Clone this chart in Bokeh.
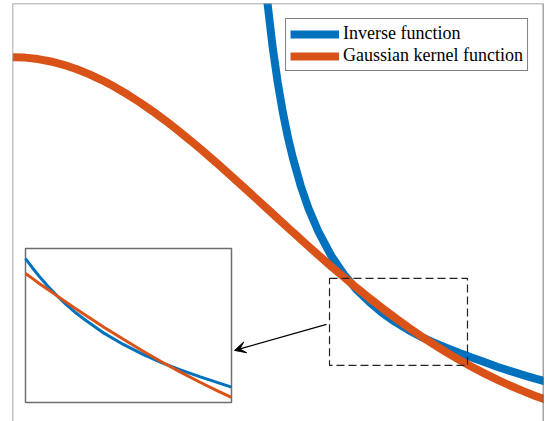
from bokeh.plotting import figure
from bokeh.models import Range1d, Span, BoxAnnotation, Arrow, VeeHead
from bokeh.embed import file_html
from bokeh.resources import INLINE

# ---- data ----
gauss_x = [0.0, 0.05, 0.1, 0.15, 0.2, 0.25, 0.3, 0.35, 0.4, 0.45, 0.5, 0.55, 0.6, 0.65,
           0.7, 0.75, 0.8, 0.85, 0.9, 0.95, 1.0, 1.05, 1.1, 1.15, 1.2, 1.25, 1.3, 1.35,
           1.4, 1.45, 1.5, 1.55, 1.6, 1.65, 1.7, 1.75, 1.8, 1.85, 1.9, 1.95, 2.0, 2.05, 2.1]
gauss_y = [1.0, 0.9988, 0.9950, 0.9888, 0.9802, 0.9692, 0.9560, 0.9406, 0.9231, 0.9037,
           0.8825, 0.8596, 0.8353, 0.8095, 0.7827, 0.7548, 0.7261, 0.6968, 0.6670, 0.6368,
           0.6065, 0.5762, 0.5461, 0.5162, 0.4868, 0.4578, 0.4296, 0.4020, 0.3753, 0.3495,
           0.3247, 0.3008, 0.2780, 0.2563, 0.2357, 0.2163, 0.1979, 0.1806, 0.1645, 0.1494,
           0.1353, 0.1223, 0.1103]

inv_x = [0.98, 1.0, 1.02, 1.04, 1.06, 1.08, 1.1, 1.13, 1.16, 1.2, 1.25, 1.3, 1.35, 1.4,
         1.45, 1.5, 1.55, 1.6, 1.65, 1.7, 1.75, 1.8, 1.85, 1.9, 1.95, 2.0, 2.05, 2.1]
inv_y = [1.281, 1.139, 1.026, 0.934, 0.857, 0.792, 0.737, 0.667, 0.609, 0.547, 0.485,
         0.437, 0.397, 0.365, 0.337, 0.314, 0.294, 0.276, 0.261, 0.247, 0.234, 0.222,
         0.210, 0.198, 0.187, 0.177, 0.167, 0.158]

# zoomed-in region (inset)
zoom_x = [1.243, 1.26, 1.28, 1.30, 1.325, 1.35, 1.375, 1.40, 1.45, 1.50, 1.55, 1.60,
          1.65, 1.70, 1.75, 1.784]
zoom_inv = [0.493, 0.475, 0.455, 0.437, 0.416, 0.397, 0.380, 0.365, 0.337, 0.314,
            0.294, 0.276, 0.261, 0.247, 0.234, 0.225]
zoom_gauss = [0.4619, 0.4522, 0.4406, 0.4296, 0.4158, 0.4020, 0.3885, 0.3753, 0.3495,
              0.3247, 0.3008, 0.2780, 0.2563, 0.2357, 0.2163, 0.2037]
zoom_y_lim = [0.193, 0.514]

labels = ["Inverse function", "Gaussian kernel function"]

BLUE = "#0072BD"
ORANGE = "#D95319"

# ---- layout ----
W, H = 552, 421
FL, FR, FT, FB = 12, 543, 3, 421          # frame edges in page pixels
INSET = (25, 231, 248, 402)               # inset box in page pixels

X0, X1 = 0.0, 2.082
Y0, Y1 = 0.056, 1.139

p = figure(width=W, height=H, x_range=Range1d(X0, X1), y_range=Range1d(Y0, Y1),
           x_axis_type=None, y_axis_type=None, toolbar_location=None,
           output_backend="svg", min_border_left=FL, min_border_right=W - FR,
           min_border_top=FT, min_border_bottom=H - FB)
p.styles = {"position": "absolute", "left": "0px", "top": "0px"}
p.outline_line_color = None
p.background_fill_color = "white"
p.border_fill_color = "white"

# frame on three sides
p.add_layout(Span(location=X0, dimension="height", line_color="#8a8a8a", line_width=1.5))
p.add_layout(Span(location=Y1, dimension="width", line_color="#8a8a8a", line_width=1.5))
p.add_layout(Span(location=X1, dimension="height", line_color="#4a4a4a", line_width=1.5))

p.line(inv_x, inv_y, line_color=BLUE, line_width=8, legend_label=labels[0])
p.line(gauss_x, gauss_y, line_color=ORANGE, line_width=8, legend_label=labels[1])

# inset coordinate system: map zoom region onto the inset box
fw, fh = FR - FL, FB - FT
zx0, zx1 = zoom_x[0], zoom_x[-1]
zy0, zy1 = zoom_y_lim
sx = (zx1 - zx0) / (INSET[1] - INSET[0])
sy = (zy1 - zy0) / (INSET[3] - INSET[2])
ix_start = zx0 - (INSET[0] - FL) * sx
iy_top = zy1 + (INSET[2] - FT) * sy
p.extra_x_ranges = {"ix": Range1d(ix_start, ix_start + fw * sx)}
p.extra_y_ranges = {"iy": Range1d(iy_top - fh * sy, iy_top)}

p.add_layout(BoxAnnotation(left=zx0, right=zx1, bottom=zy0, top=zy1,
                           x_range_name="ix", y_range_name="iy",
                           fill_color="white", fill_alpha=1.0,
                           line_color="#6e6e6e", line_alpha=1.0, line_width=1.5,
                           level="underlay"))
p.line(zoom_x, zoom_inv, line_color=BLUE, line_width=3, x_range_name="ix", y_range_name="iy")
p.line(zoom_x, zoom_gauss, line_color=ORANGE, line_width=3, x_range_name="ix", y_range_name="iy")

# dashed box marking the zoomed region
p.add_layout(BoxAnnotation(left=zx0, right=zx1, bottom=0.2013, top=0.4267,
                           fill_alpha=0, line_color="#222222", line_alpha=1.0,
                           line_width=1.2, line_dash="8 4"))

# arrow from dashed box to inset
p.add_layout(Arrow(end=VeeHead(size=11, fill_color="black", line_color="black"),
                   x_start=1.231, y_start=0.3075, x_end=0.8706, y_end=0.2402,
                   line_color="black", line_width=1.2))

lg = p.legend[0]
lg.location = "top_right"
lg.margin = 15
lg.padding = 4
lg.spacing = 1
lg.glyph_width = 49
lg.label_standoff = 4
lg.label_text_font = "Liberation Serif"
lg.label_text_font_size = "18px"
lg.label_text_color = "black"
lg.border_line_color = "black"
lg.border_line_width = 1
lg.background_fill_alpha = 1.0

open("out.html", "w").write(file_html(p, INLINE))
